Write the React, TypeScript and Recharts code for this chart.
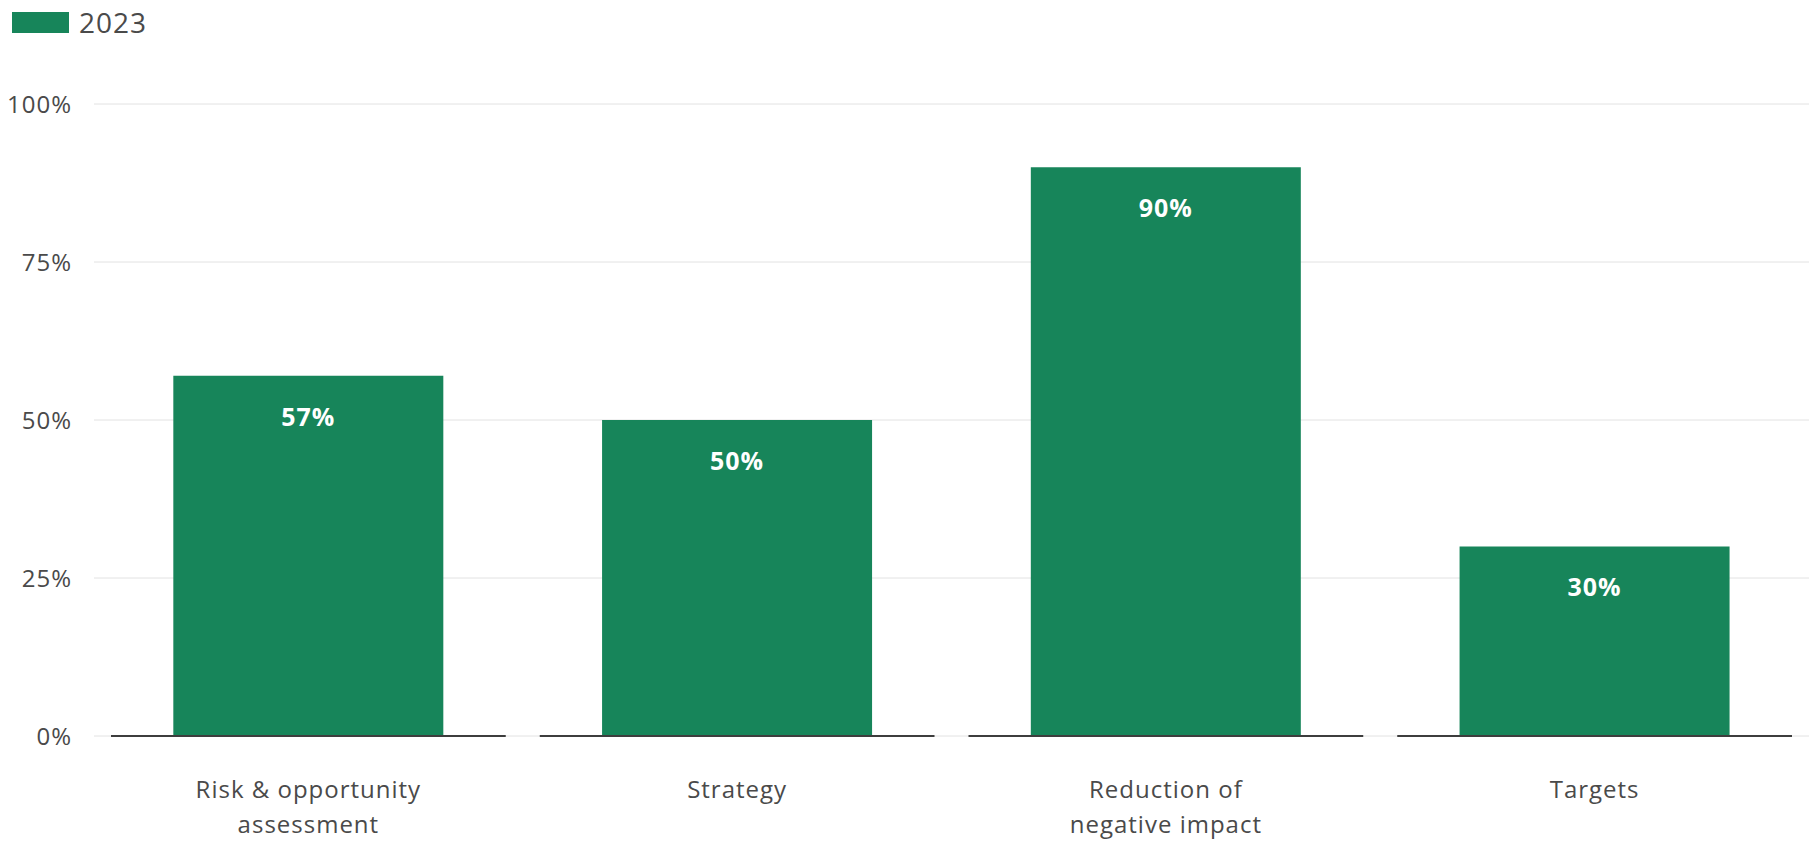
import React from 'react'
import { BarChart, Bar, XAxis, YAxis, CartesianGrid, LabelList } from 'recharts'

const CATEGORIES = ['Risk & opportunity\nassessment', 'Strategy', 'Reduction of\nnegative impact', 'Targets']
const VALUES = [57, 50, 90, 30]
const Y_TICKS = [0, 25, 50, 75, 100]
const SERIES_NAME = '2023'

const GREEN = '#17855a'
const TEXT = '#4a4a4a'
const FONT = '"Open Sans", sans-serif'

const data = CATEGORIES.map((cat, i) => ({ cat, value: VALUES[i] }))

// category label + its own piece of the baseline (segments leave a small gap between bands)
function CategoryTick(props: any) {
    const { x, y, payload, width, visibleTicksCount } = props
    const half = (width / (visibleTicksCount || 4)) / 2
    const inset = 17
    const lines = String(payload.value).split('\n')
    return (
        <g>
            <line x1={x - half + inset} x2={x + half - inset} y1={y} y2={y} stroke="#3d3d3d" strokeWidth={2} />
            <text x={x} y={y + 62} textAnchor="middle" fill={TEXT} fontSize={24} letterSpacing={1} fontFamily={FONT}>
                {lines.map((l, i) => (
                    <tspan key={i} x={x} dy={i === 0 ? 0 : 35}>{l}</tspan>
                ))}
            </text>
        </g>
    )
}

export default function App() {
    return (
        <div style={{ position: 'relative', width: 1819, height: 843, background: '#fff' }}>
            <style>{'body{margin:0}'}</style>
            <div style={{ position: 'absolute', left: 12, top: 3, display: 'flex', alignItems: 'center', gap: 10, fontFamily: FONT, fontSize: 28, letterSpacing: 1, color: TEXT }}>
                <span style={{ display: 'inline-block', width: 57, height: 21, background: GREEN }} />
                <span>{SERIES_NAME}</span>
            </div>
            <BarChart
                width={1819}
                height={843}
                data={data}
                margin={{ top: 104, right: 10, left: 0, bottom: 0 }}
                barCategoryGap="18.5%"
            >
                <CartesianGrid vertical={false} stroke="#e2e2e2" />
                <YAxis
                    type="number"
                    domain={[0, 100]}
                    ticks={Y_TICKS}
                    width={94}
                    axisLine={false}
                    tickLine={false}
                    tickSize={0}
                    tickMargin={22}
                    tickFormatter={(v: number) => `${v}%`}
                    tick={{ fill: TEXT, fontSize: 24, letterSpacing: 1, fontFamily: FONT }}
                />
                <XAxis
                    dataKey="cat"
                    height={107}
                    axisLine={false}
                    tickLine={false}
                    tickSize={0}
                    tickMargin={0}
                    interval={0}
                    tick={<CategoryTick />}
                />
                <Bar dataKey="value" fill={GREEN} isAnimationActive={false}>
                    <LabelList
                        dataKey="value"
                        position="insideTop"
                        offset={32}
                        formatter={(v: any) => `${v}%`}
                        fill="#ffffff"
                        fontSize={25}
                        fontWeight={700}
                        letterSpacing={1}
                        fontFamily={FONT}
                    />
                </Bar>
            </BarChart>
        </div>
    )
}
